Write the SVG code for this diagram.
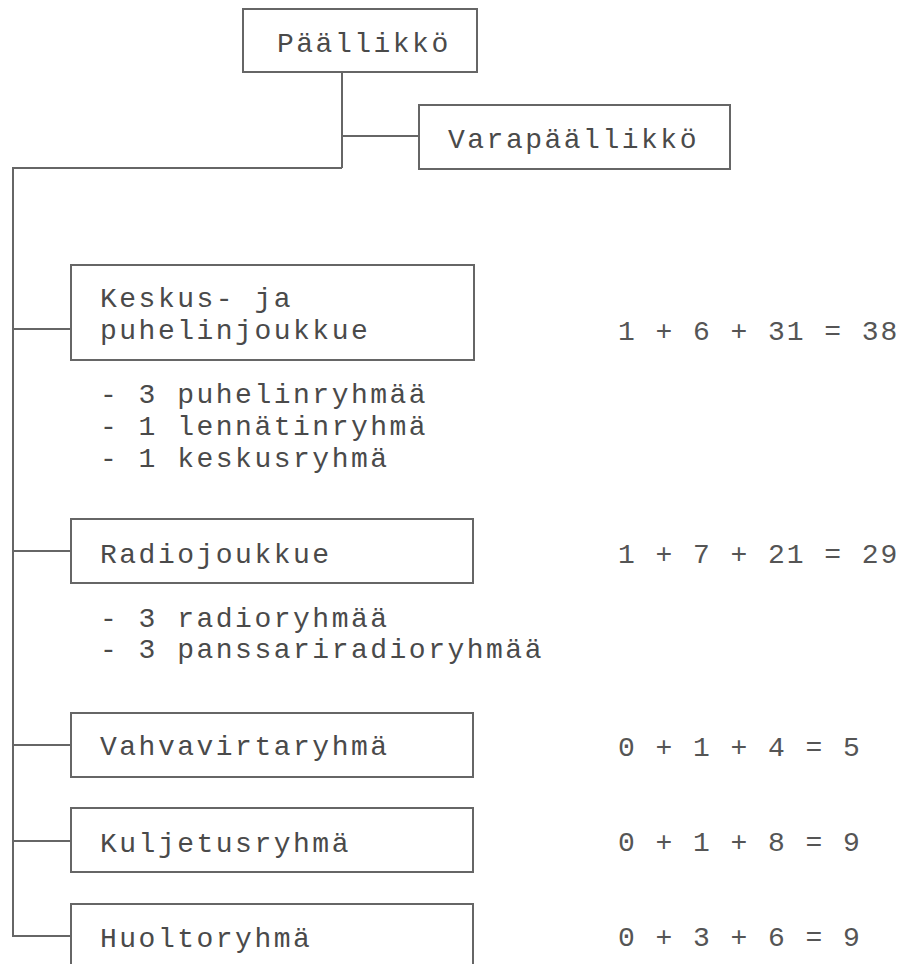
<svg xmlns="http://www.w3.org/2000/svg" width="920" height="964" viewBox="0 0 920 964">
<style>
.box{fill:#fff;stroke:#666;stroke-width:2}
.ln{fill:none;stroke:#666;stroke-width:2}
text{font-family:"Liberation Mono","Courier New",monospace;font-size:28px;letter-spacing:2.5px;fill:#4a4a4a}
.num{font-size:28px;letter-spacing:1.95px;fill:#555}
</style>
<rect width="920" height="964" fill="#fff"/>
<g id="connectors">
<path class="ln" d="M342 72V168M342 136H419M342 168H13V936H71M13 329H71M13 551H71M13 745H71M13 841H71"/>
</g>
<g id="paallikko">
<rect class="box" x="243" y="9" width="234" height="63"/>
<text x="277" y="52">Päällikkö</text>
</g>
<g id="varapaallikko">
<rect class="box" x="419" y="105" width="311" height="64"/>
<text x="448" y="148">Varapäällikkö</text>
</g>
<g id="keskus">
<rect class="box" x="71" y="265" width="403" height="95"/>
<text x="100" y="307">Keskus- ja</text>
<text x="100" y="339">puhelinjoukkue</text>
</g>
<g id="keskus-sub">
<text x="100" y="403">- 3 puhelinryhmää</text>
<text x="100" y="435">- 1 lennätinryhmä</text>
<text x="100" y="467">- 1 keskusryhmä</text>
</g>
<text class="num" x="618" y="340">1 + 6 + 31 = 38</text>
<g id="radio">
<rect class="box" x="71" y="519" width="402" height="64"/>
<text x="100" y="563">Radiojoukkue</text>
</g>
<g id="radio-sub">
<text x="100" y="627">- 3 radioryhmää</text>
<text x="100" y="658">- 3 panssariradioryhmää</text>
</g>
<text class="num" x="618" y="563">1 + 7 + 21 = 29</text>
<g id="vahvavirta">
<rect class="box" x="71" y="713" width="402" height="64"/>
<text x="100" y="755">Vahvavirtaryhmä</text>
</g>
<text class="num" x="618" y="756">0 + 1 + 4 = 5</text>
<g id="kuljetus">
<rect class="box" x="71" y="808" width="402" height="64"/>
<text x="100" y="852">Kuljetusryhmä</text>
</g>
<text class="num" x="618" y="851">0 + 1 + 8 = 9</text>
<g id="huolto">
<rect class="box" x="71" y="904" width="402" height="70"/>
<text x="100" y="947">Huoltoryhmä</text>
</g>
<text class="num" x="618" y="946">0 + 3 + 6 = 9</text>
</svg>
